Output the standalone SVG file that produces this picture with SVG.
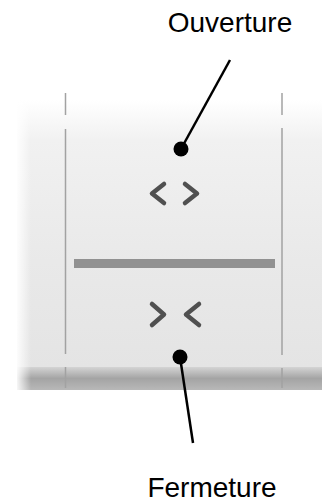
<svg xmlns="http://www.w3.org/2000/svg" width="322" height="504" viewBox="0 0 322 504">
  <defs>
    <linearGradient id="panelGrad" x1="0" y1="0" x2="0" y2="1">
      <stop offset="0" stop-color="#ffffff"/>
      <stop offset="0.15" stop-color="#f1f1f1"/>
      <stop offset="0.6" stop-color="#e9e9e9"/>
      <stop offset="1" stop-color="#e4e4e4"/>
    </linearGradient>
    <linearGradient id="bandGrad" x1="0" y1="0" x2="0" y2="1">
      <stop offset="0" stop-color="#d4d4d4"/>
      <stop offset="0.5" stop-color="#a4a4a4"/>
      <stop offset="1" stop-color="#b8b8b8"/>
    </linearGradient>
    <linearGradient id="edgeFade" x1="0" y1="0" x2="1" y2="0">
      <stop offset="0" stop-color="#ffffff" stop-opacity="0.9"/>
      <stop offset="1" stop-color="#ffffff" stop-opacity="0"/>
    </linearGradient>
  </defs>
  <style>
    .label { font-family: "Liberation Sans", Arial, sans-serif; font-size: 28px; fill: #000; text-anchor: middle; }
    .chev { fill: none; stroke: #505050; stroke-width: 4.5; stroke-linecap: round; stroke-linejoin: round; }
    .sep { stroke: #a2a2a2; stroke-width: 1.5; }
    .dot { fill: #000; }
    .conn { stroke: #000; stroke-width: 2.5; fill: none; }
  </style>

  <g id="panel">
    <rect x="17" y="100" width="305" height="268" fill="url(#panelGrad)"/>
    <rect x="17" y="367" width="305" height="23" fill="url(#bandGrad)"/>
    <rect x="17" y="100" width="14" height="290" fill="url(#edgeFade)"/>
    <line class="sep" x1="65.5" y1="93" x2="65.5" y2="115"/>
    <line class="sep" x1="65.5" y1="129" x2="65.5" y2="354"/>
    <line class="sep" x1="65.5" y1="367" x2="65.5" y2="388"/>
    <line class="sep" x1="282" y1="93" x2="282" y2="115"/>
    <line class="sep" x1="282" y1="128" x2="282" y2="355"/>
    <line class="sep" x1="282" y1="368" x2="282" y2="388"/>
    <rect x="74" y="259" width="201" height="9" fill="#919191"/>
  </g>

  <g id="ouverture">
    <path class="chev" d="M164,184 L152,193.5 L164,203"/>
    <path class="chev" d="M185,184 L197,193.5 L185,203"/>
    <circle class="dot" cx="181" cy="149" r="7.5"/>
    <text class="label" x="230" y="32">Ouverture</text>
  </g>

  <g id="fermeture">
    <path class="chev" d="M152,304 L164,314.5 L152,325"/>
    <path class="chev" d="M199,304 L186,314.5 L199,325"/>
    <circle class="dot" cx="180" cy="357" r="7.5"/>
    <text class="label" x="212" y="497">Fermeture</text>
  </g>

  <g id="connectors">
    <line class="conn" x1="181" y1="149" x2="230" y2="60"/>
    <line class="conn" x1="180" y1="357" x2="193" y2="443"/>
  </g>
</svg>
